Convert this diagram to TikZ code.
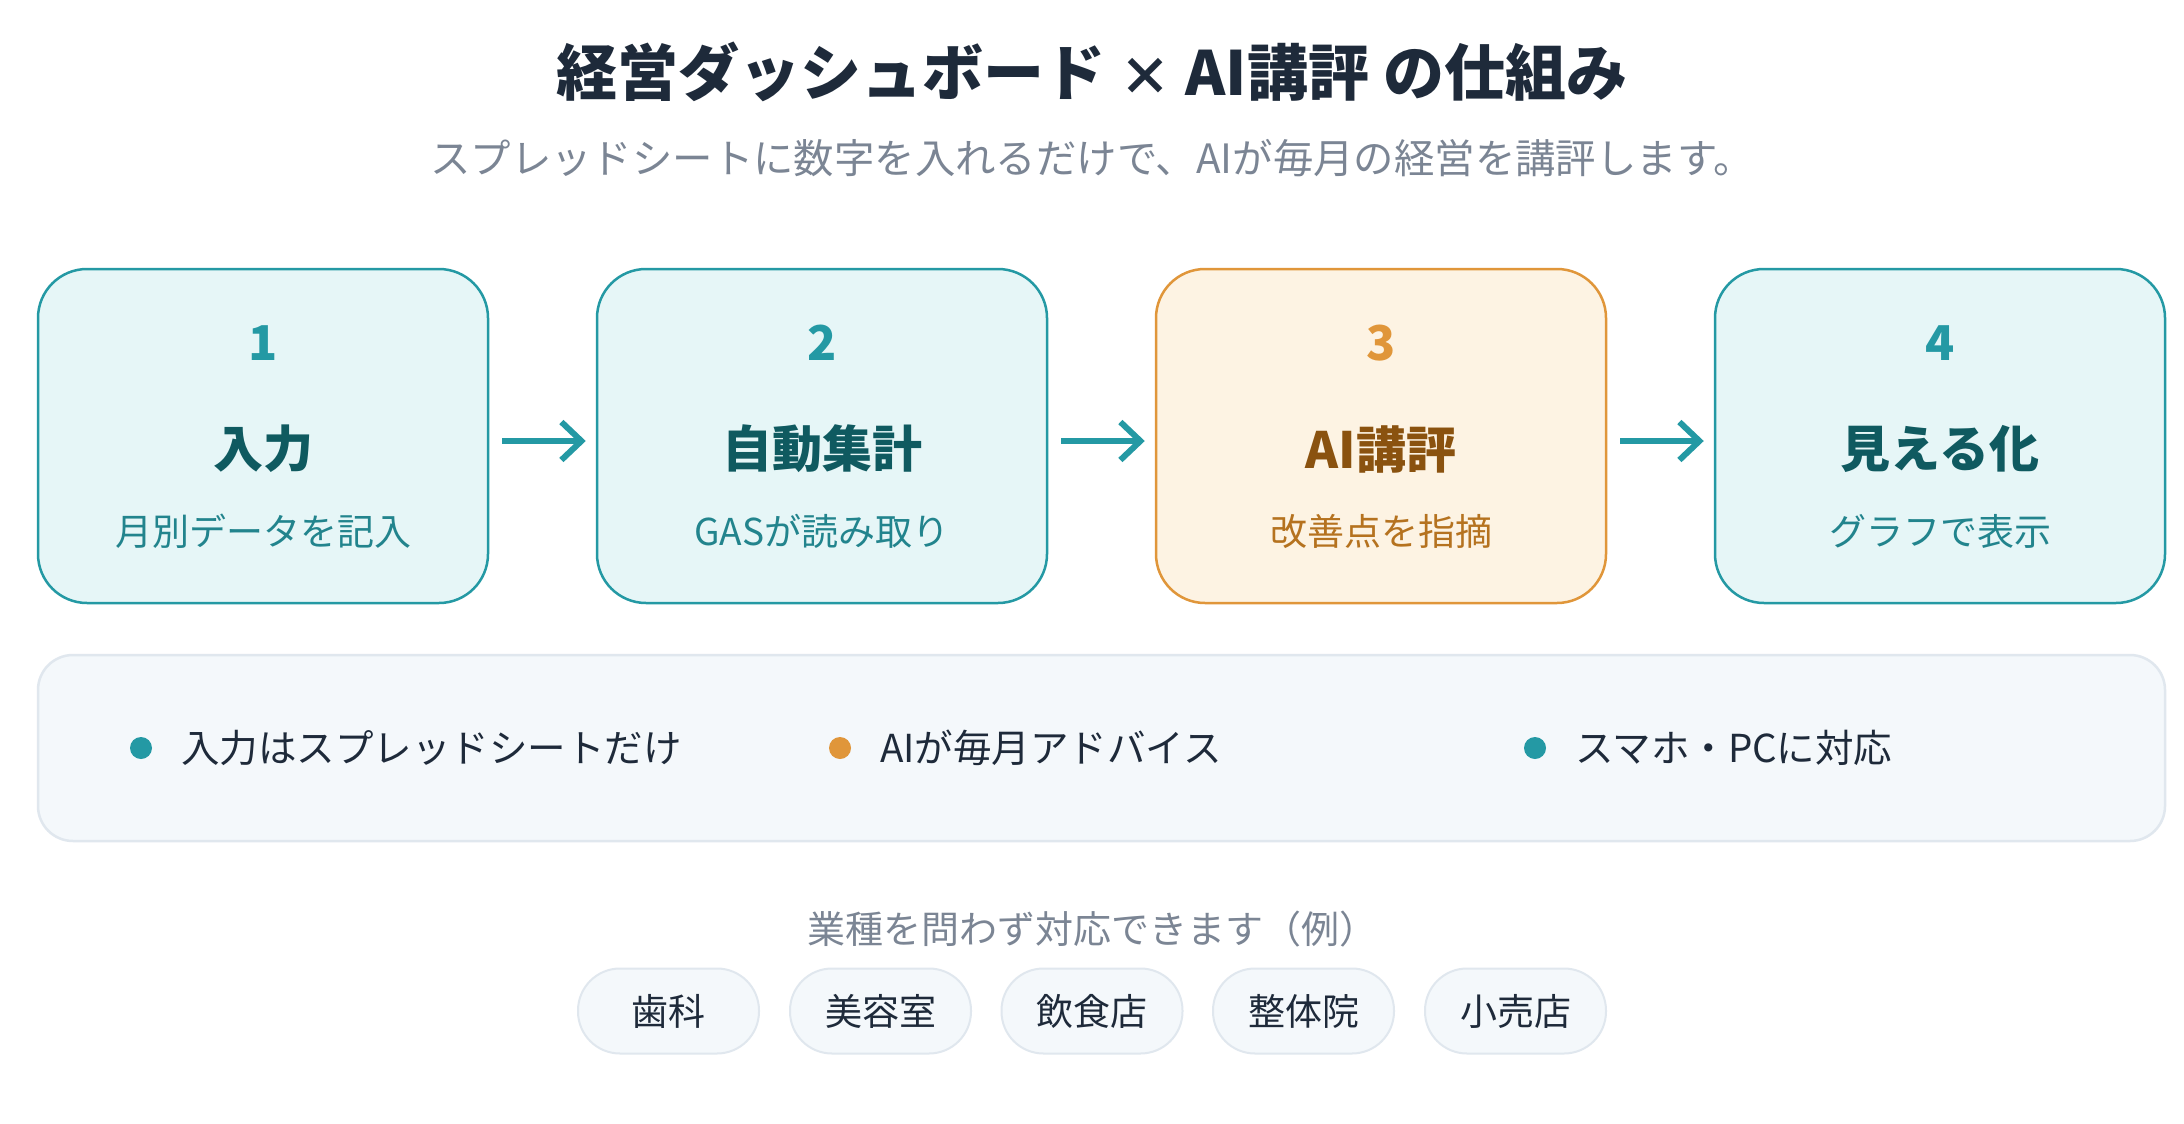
\documentclass[tikz,border=0pt]{standalone}
\usepackage{fontspec}
\setmainfont{Noto Sans CJK JP}
\usetikzlibrary{arrows.meta}
\definecolor{ink}{HTML}{1E2A3A}
\definecolor{gray}{HTML}{7B8594}
\definecolor{teal}{HTML}{2499A4}
\definecolor{tealfill}{HTML}{E6F6F7}
\definecolor{tealdark}{HTML}{0F5A60}
\definecolor{tealmid}{HTML}{22848D}
\definecolor{orange}{HTML}{E0963A}
\definecolor{orangefill}{HTML}{FDF3E3}
\definecolor{brown}{HTML}{8A520F}
\definecolor{brownmid}{HTML}{B5721F}
\definecolor{panelfill}{HTML}{F4F8FB}
\definecolor{panelline}{HTML}{E0E7EE}
\newcommand{\fs}[1]{\fontsize{#1}{#1}\selectfont}
\tikzset{
  stepbox/.style={draw=teal, fill=tealfill, line width=2.5pt, rounded corners=49pt, minimum width=450pt, minimum height=334pt},
  aibox/.style={stepbox, draw=orange, fill=orangefill},
  numtxt/.style={font=\fs{48}\bfseries, text=teal},
  headtxt/.style={font=\fs{50}\bfseries, text=tealdark},
  subtxt/.style={font=\fs{37}, text=tealmid},
  flow/.style={draw=teal, line width=6pt, -{Straight Barb[length=20pt,width=38pt,line width=6pt]}, shorten <=13pt, shorten >=10pt},
  dot/.style={circle, minimum size=22pt, inner sep=0pt},
  feat/.style={font=\fs{38.5}, text=ink, anchor=west, inner sep=0pt},
  pill/.style={draw=panelline, fill=panelfill, line width=2pt, rounded corners=42pt, minimum width=181pt, minimum height=85pt, font=\fs{37}, text=ink}
}
\begin{document}
\begin{tikzpicture}[x=1pt,y=-1pt]
\useasboundingbox[fill=white] (0,0) rectangle (2184,1124);
\node[font=\fs{61}\bfseries, text=ink] (title) at (1092,72) {経営ダッシュボード {\fs{52}×} AI講評 の仕組み};
\node[font=\fs{40.4}, text=gray] (subtitle) at (1092,158) {スプレッドシートに数字を入れるだけで、AIが毎月の経営を講評します。};

\node[stepbox] (b1) at (263,436) {};
\node[stepbox] (b2) at (822,436) {};
\node[aibox]   (b3) at (1381,436) {};
\node[stepbox] (b4) at (1940,436) {};

\node[numtxt] (n1) at (263,343) {1};
\node[headtxt] (h1) at (263,449) {入力};
\node[subtxt] (s1) at (263,531) {月別データを記入};

\node[numtxt] (n2) at (822,343) {2};
\node[headtxt] (h2) at (822,449) {自動集計};
\node[subtxt] (s2) at (822,531) {GASが読み取り};

\node[numtxt, text=orange] (n3) at (1381,343) {3};
\node[headtxt, text=brown] (h3) at (1381,449) {AI講評};
\node[subtxt, text=brownmid] (s3) at (1381,531) {改善点を指摘};

\node[numtxt] (n4) at (1940,343) {4};
\node[headtxt] (h4) at (1940,449) {見える化};
\node[subtxt] (s4) at (1940,531) {グラフで表示};

\draw[flow] ([yshift=-5pt]b1.east) -- ([yshift=-5pt]b2.west);
\draw[flow] ([yshift=-5pt]b2.east) -- ([yshift=-5pt]b3.west);
\draw[flow] ([yshift=-5pt]b3.east) -- ([yshift=-5pt]b4.west);

\node[draw=panelline, fill=panelfill, line width=2.5pt, rounded corners=35pt, minimum width=2127pt, minimum height=186pt] (panel) at (1101.5,748) {};
\node[dot, fill=teal] (d1) at (141,748) {};
\node[feat] (f1) at (181,748) {入力はスプレッドシートだけ};
\node[dot, fill=orange] (d2) at (840,748) {};
\node[feat] (f2) at (880,748) {AIが毎月アドバイス};
\node[dot, fill=teal] (d3) at (1535,748) {};
\node[feat] (f3) at (1575,748) {スマホ・PCに対応};

\node[font=\fs{38}, text=gray] (ex) at (1092,929) {業種を問わず対応できます（例）};
\node[pill] (p1) at (668.5,1011) {歯科};
\node[pill] (p2) at (880.5,1011) {美容室};
\node[pill] (p3) at (1092,1011) {飲食店};
\node[pill] (p4) at (1303.5,1011) {整体院};
\node[pill] (p5) at (1515.5,1011) {小売店};
\end{tikzpicture}
\end{document}
